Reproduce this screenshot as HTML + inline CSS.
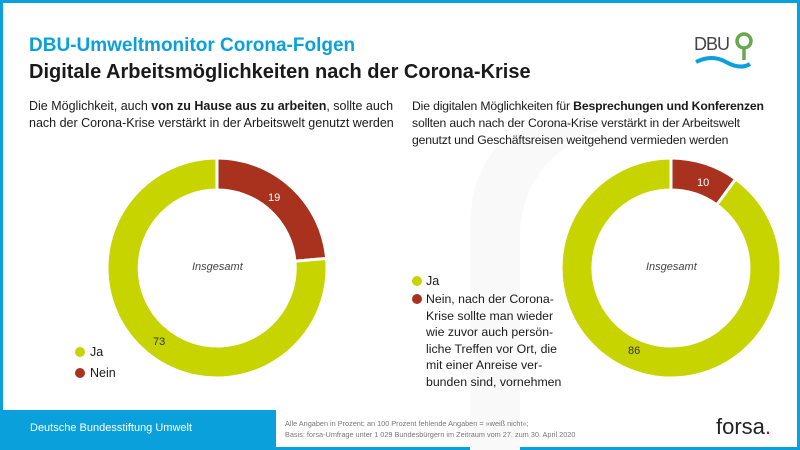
<!DOCTYPE html>
<html><head><meta charset="utf-8"><style>
body{margin:0;width:800px;height:450px;overflow:hidden;font-family:"Liberation Sans",sans-serif;background:#fff}
.wrap{position:absolute;left:0;top:0;width:794px;height:444px;border:3px solid #0aa0dc;background:#fff}
.t{position:absolute;white-space:nowrap;color:#1a1a1a}
</style></head><body>
<div class="wrap"></div>
<svg width="800" height="450" style="position:absolute;left:0;top:0">
<path d="M470,450 L470,230 Q470,130 560,120 L600,130 Q520,160 520,240 L520,450Z" fill="#f9f9f9"/>
<g stroke="#fff" stroke-width="3">
<path d="M217,158 A110,110 0 0 1 326.6,258.4 L294.9,261.2 A78,78 0 0 0 217,190Z" fill="#a8321e"/>
<path d="M326.6,258.4 A110,110 0 1 1 217,158 L217,190 A78,78 0 1 0 294.9,261.2Z" fill="#c8d400"/>
<path d="M671,158 A110,110 0 0 1 735.7,179 L716.8,204.9 A78,78 0 0 0 671,190Z" fill="#a8321e"/>
<path d="M735.7,179 A110,110 0 1 1 671,158 L671,190 A78,78 0 1 0 716.8,204.9Z" fill="#c8d400"/>
</g>
<rect x="0" y="410" width="276" height="40" fill="#0aa0dc"/>
<circle cx="80" cy="352" r="5" fill="#c8d400"/><circle cx="80" cy="373" r="5" fill="#a8321e"/>
<circle cx="417" cy="281" r="5" fill="#c8d400"/><circle cx="417" cy="299" r="5" fill="#a8321e"/>
<path d="M696,62 Q712,54 726,62 T750,64" stroke="#0aa0dc" stroke-width="4" fill="none"/>
<circle cx="744" cy="41" r="7" stroke="#6aa84f" stroke-width="3.5" fill="none"/>
<line x1="744" y1="48" x2="744" y2="60" stroke="#6aa84f" stroke-width="3.5"/>
</svg>
<div class="t" style="left:29px;top:35px;font-size:19px;font-weight:bold;color:#0aa0dc">DBU-Umweltmonitor Corona-Folgen</div>
<div class="t" style="left:29px;top:61px;font-size:20px;font-weight:bold">Digitale Arbeitsmöglichkeiten nach der Corona-Krise</div>
<div class="t" style="left:694px;top:34px;font-size:18px;color:#444;letter-spacing:-1px">DBU</div>
<div class="t" style="left:29px;top:98px;font-size:12.5px;line-height:17px">Die Möglichkeit, auch <b>von zu Hause aus zu arbeiten</b>, sollte auch<br>nach der Corona-Krise verstärkt in der Arbeitswelt genutzt werden</div>
<div class="t" style="left:412px;top:98px;font-size:12.2px;line-height:17px;letter-spacing:-0.15px">Die digitalen Möglichkeiten für <b>Besprechungen und Konferenzen</b><br>sollten auch nach der Corona-Krise verstärkt in der Arbeitswelt<br>genutzt und Geschäftsreisen weitgehend vermieden werden</div>
<div class="t" style="left:192px;top:261px;font-size:11px;font-style:italic;color:#444">Insgesamt</div>
<div class="t" style="left:646px;top:261px;font-size:11px;font-style:italic;color:#444">Insgesamt</div>
<div class="t" style="left:268px;top:192px;font-size:11px;color:#fff">19</div>
<div class="t" style="left:153px;top:336px;font-size:11px;color:#333">73</div>
<div class="t" style="left:697px;top:177px;font-size:11px;color:#fff">10</div>
<div class="t" style="left:628px;top:345px;font-size:11px;color:#333">86</div>
<div class="t" style="left:90px;top:345px;font-size:12.5px">Ja</div>
<div class="t" style="left:90px;top:366px;font-size:12.5px">Nein</div>
<div class="t" style="left:426px;top:274px;font-size:12.5px">Ja</div>
<div class="t" style="left:426px;top:291px;font-size:12.3px;line-height:16.5px">Nein, nach der Corona-<br>Krise sollte man wieder<br>wie zuvor auch persön-<br>liche Treffen vor Ort, die<br>mit einer Anreise ver-<br>bunden sind, vornehmen</div>
<div class="t" style="left:30px;top:422px;font-size:11px;color:#fff">Deutsche Bundesstiftung Umwelt</div>
<div class="t" style="left:285px;top:418px;font-size:7.3px;line-height:11px;color:#777">Alle Angaben in Prozent; an 100 Prozent fehlende Angaben = »weiß nicht«;<br>Basis: forsa-Umfrage unter 1 029 Bundesbürgern im Zeitraum vom 27. zum 30. April 2020</div>
<div class="t" style="left:716px;top:414px;font-size:22px;color:#222">forsa<span style="color:#e2001a">.</span></div>
</body></html>
